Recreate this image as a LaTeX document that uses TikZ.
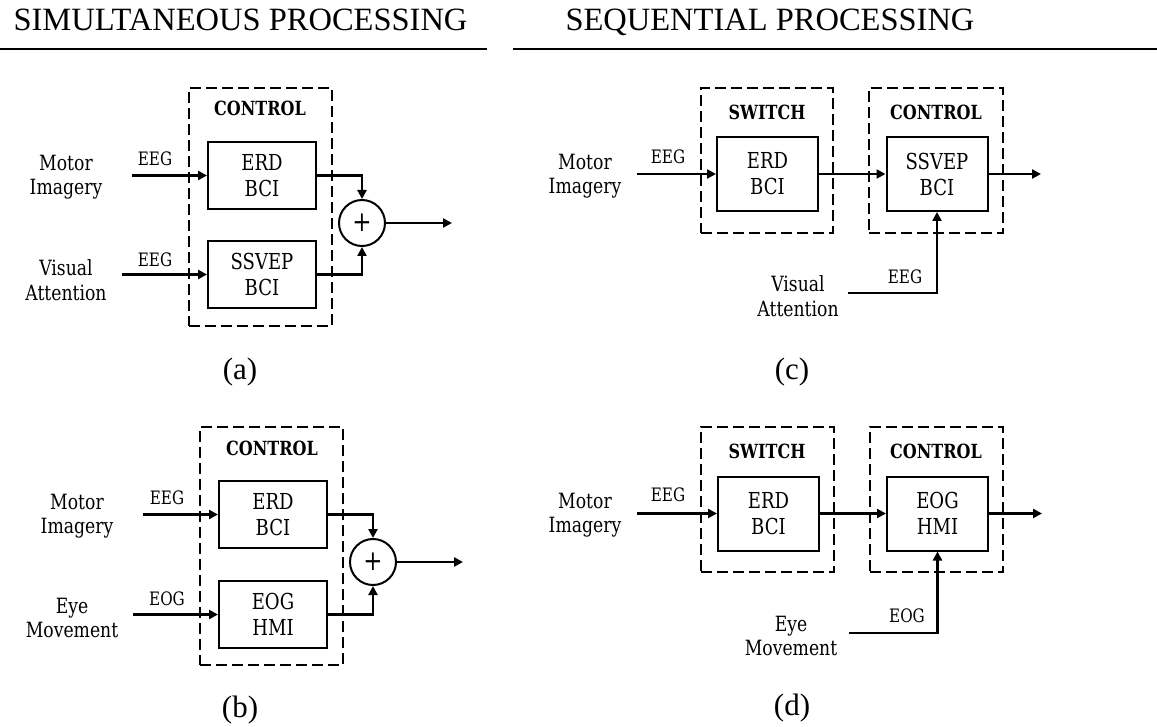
\documentclass[tikz,border=0pt]{standalone}
\usepackage{fontspec}
\setmainfont{Liberation Serif}
\newfontfamily\cbr{DejaVu Serif}[FakeStretch=0.82]
\usetikzlibrary{arrows.meta}
\begin{document}
\begin{tikzpicture}[x=1pt,y=-1pt,
  blkA/.style={draw,line width=2pt,minimum width=108pt,minimum height=67pt,inner sep=0pt,align=center,font=\cbr\fontsize{22}{26}\selectfont},
  blkC/.style={draw,line width=2pt,minimum width=101pt,minimum height=74pt,inner sep=0pt,align=center,font=\cbr\fontsize{22}{26}\selectfont},
  grp/.style={draw,line width=2pt,dash pattern=on 11pt off 5pt,inner sep=0pt},
  sumnode/.style={draw,circle,line width=2pt,minimum size=46pt,inner sep=0pt,font=\cbr\fontsize{28}{28}\selectfont},
  lbl/.style={align=center,inner sep=0pt,font=\cbr\fontsize{21}{24.5}\selectfont},
  sig/.style={inner sep=0pt,font=\cbr\fontsize{18.5}{20}\selectfont},
  hdr/.style={inner sep=0pt,font=\cbr\bfseries\fontsize{19.5}{20}\selectfont},
  ttl/.style={anchor=base,inner sep=0pt,font=\fontsize{32.5}{36}\selectfont},
  sub/.style={inner sep=0pt,font=\fontsize{31}{34}\selectfont},
  arr/.style={line width=2.6pt,-{Triangle[length=9pt,width=9pt]}},
  rule/.style={line width=2pt}]
\useasboundingbox (0,0) rectangle (1157,727);

% titles
\node[ttl] (t1) at (240.5,31) {SIMULTANEOUS PROCESSING};
\node[ttl] (t2) at (770,31) {SEQUENTIAL PROCESSING};
\coordinate (r1a) at (0,49); \coordinate (r1b) at (487,49);
\coordinate (r2a) at (513,49); \coordinate (r2b) at (1157,49);
\draw[rule] (r1a) -- (r1b);
\draw[rule] (r2a) -- (r2b);

% ---------- (a) ----------
\node[grp,minimum width=143pt,minimum height=238pt] (gA) at (260.5,207) {};
\node[hdr] (hA) at (260,108) {CONTROL};
\node[blkA] (erdA) at (262,175.5) {ERD\\BCI};
\node[blkA] (ssvA) at (262,274.5) {SSVEP\\BCI};
\node[sumnode] (sumA) at (362,223) {+};
\node[lbl] (miA) at (66,177) {Motor\\Imagery};
\node[lbl] (vaA) at (66,280) {Visual\\Attention};
\node[sig] (s1A) at (155,159) {EEG};
\node[sig] (s2A) at (155,260) {EEG};
\coordinate (i1A) at (132,175.5);
\coordinate (i2A) at (122,274.5);
\coordinate (oA) at (452,223);
\draw[arr] (i1A) -- (erdA.west);
\draw[arr] (i2A) -- (ssvA.west);
\draw[arr] (erdA.east) -| (sumA.north);
\draw[arr] (ssvA.east) -| (sumA.south);
\draw[arr] (sumA.east) -- (oA);
\node[sub] (la) at (240,372) {(a)};

% ---------- (b) ----------
\node[grp,minimum width=143pt,minimum height=238pt] (gB) at (271.5,546) {};
\node[hdr] (hB) at (272,448) {CONTROL};
\node[blkA] (erdB) at (273,514.5) {ERD\\BCI};
\node[blkA] (eogB) at (273,614.5) {EOG\\HMI};
\node[sumnode] (sumB) at (373,562) {+};
\node[lbl] (miB) at (77,516) {Motor\\Imagery};
\node[lbl] (emB) at (72,618) {Eye\\Movement};
\node[sig] (s1B) at (167,498) {EEG};
\node[sig] (s2B) at (167,599) {EOG};
\coordinate (i1B) at (143,514.5);
\coordinate (i2B) at (133,614.5);
\coordinate (oB) at (463,562);
\draw[arr] (i1B) -- (erdB.west);
\draw[arr] (i2B) -- (eogB.west);
\draw[arr] (erdB.east) -| (sumB.north);
\draw[arr] (eogB.east) -| (sumB.south);
\draw[arr] (sumB.east) -- (oB);
\node[sub] (lb) at (240,710) {(b)};

% ---------- (c) ----------
\node[grp,minimum width=132pt,minimum height=145pt] (swC) at (767,160.5) {};
\node[grp,minimum width=134pt,minimum height=145pt] (ctC) at (936,160.5) {};
\node[hdr] (hsC) at (767,112) {SWITCH};
\node[hdr] (hcC) at (936,112) {CONTROL};
\node[blkC] (erdC) at (767.5,174) {ERD\\BCI};
\node[blkC] (ssvC) at (937,174) {SSVEP\\BCI};
\node[lbl] (miC) at (585,176) {Motor\\Imagery};
\node[lbl] (vaC) at (798,296) {Visual\\Attention};
\node[sig] (s1C) at (668,157) {EEG};
\node[sig] (s2C) at (905,277) {EEG};
\coordinate (i1C) at (637,174);
\coordinate (i2C) at (848,293);
\coordinate (oC) at (1041,174);
\draw[arr] (i1C) -- (erdC.west);
\draw[arr] (erdC.east) -- (ssvC.west);
\draw[arr] (ssvC.east) -- (oC);
\draw[arr] (i2C) -| (ssvC.south);
\node[sub] (lc) at (792,372) {(c)};

% ---------- (d) ----------
\node[grp,minimum width=133pt,minimum height=145pt] (swD) at (767.5,499.5) {};
\node[grp,minimum width=133pt,minimum height=145pt] (ctD) at (936.5,499.5) {};
\node[hdr] (hsD) at (767,451) {SWITCH};
\node[hdr] (hcD) at (936,451) {CONTROL};
\node[blkC] (erdD) at (768.5,513.5) {ERD\\BCI};
\node[blkC] (eogD) at (937.5,513.5) {EOG\\HMI};
\node[lbl] (miD) at (585,515) {Motor\\Imagery};
\node[lbl] (emD) at (791,636) {Eye\\Movement};
\node[sig] (s1D) at (668,495) {EEG};
\node[sig] (s2D) at (907,616) {EOG};
\coordinate (i1D) at (637,513.5);
\coordinate (i2D) at (849,633);
\coordinate (oD) at (1042,513.5);
\draw[arr] (i1D) -- (erdD.west);
\draw[arr] (erdD.east) -- (eogD.west);
\draw[arr] (eogD.east) -- (oD);
\draw[arr] (i2D) -| (eogD.south);
\node[sub] (ld) at (792,708) {(d)};
\end{tikzpicture}
\end{document}
